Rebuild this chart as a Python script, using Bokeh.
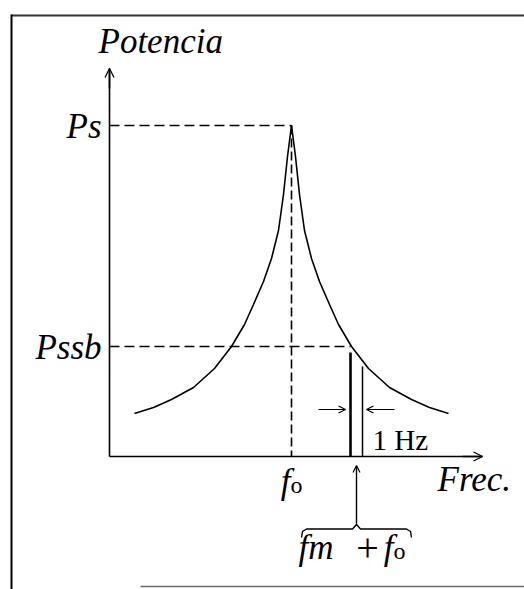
from bokeh.plotting import figure
from bokeh.models import Range1d, Arrow, OpenHead
from bokeh.core.properties import value
from bokeh.embed import file_html
from bokeh.resources import INLINE

# Spectrum of a carrier with phase-noise skirts (power vs frequency)
F0 = 182          # carrier frequency f0
PS = 331          # carrier power Ps
PSSB = 110        # single-sideband noise power Pssb at fm + f0
FM_F0 = 241       # offset frequency fm + f0
F_1HZ = 253       # fm + f0 + 1 Hz
LINE_POWER = [104, 90]   # heights of the two 1 Hz bin edges

# noise skirt readings, left and right of the carrier
freq_left = [25, 44, 62, 84, 105, 122, 135, 144, 154, 162, 169, 174, 178, 182]
power_left = [43, 49, 57, 69, 88, 110, 132, 152, 175, 198, 226, 262, 300, 331]
freq_right = [182, 186, 190, 195, 202, 210, 220, 229, 242, 259, 280, 302, 320, 339]
power_right = [331, 300, 262, 226, 198, 175, 152, 132, 110, 88, 69, 57, 49, 43]

X_MAX = 373
Y_MAX = 388
level_labels = ["Ps", "Pssb"]
level_values = [PS, PSSB]

SERIF = value("Liberation Serif")

p = figure(width=524, height=589, output_backend="svg", toolbar_location=None,
           x_range=Range1d(-109, 415), y_range=Range1d(-133, 456),
           x_axis_type=None, y_axis_type=None, min_border=0, title=None)
p.outline_line_color = None
p.grid.visible = False
p.background_fill_color = "white"
p.border_fill_color = "white"

# page frame: top and left edges, then a short rule at the bottom
p.line([-98, 415], [441, 441], line_color="#333333", line_width=2)
p.line([-98, -98], [442, -133], line_color="black", line_width=2)
p.line([31, 415], [-130, -130], line_color="#6a6a6a", line_width=1.5)

# axes
p.segment(x0=[0, 0], y0=[0, 0], x1=[X_MAX, 0], y1=[0, Y_MAX], line_color="black", line_width=1.6)
p.add_layout(Arrow(end=OpenHead(size=9, line_width=1.3), x_start=0, y_start=Y_MAX - 20,
                   x_end=0, y_end=Y_MAX, line_color="black", line_width=1.6))
p.add_layout(Arrow(end=OpenHead(size=9, line_width=1.3), x_start=X_MAX - 20, y_start=0,
                   x_end=X_MAX, y_end=0, line_color="black", line_width=1.6))

# reference levels
p.segment(x0=[0, 0], y0=[PS, PSSB], x1=[F0, FM_F0], y1=[PS, PSSB],
          line_color="black", line_width=1.6, line_dash="10 5")
p.segment(x0=[F0], y0=[PS], x1=[F0], y1=[0],
          line_color="black", line_width=1.6, line_dash="9 4")

# noise skirts
p.line(freq_left, power_left, line_color="black", line_width=1.6)
p.line(freq_right, power_right, line_color="black", line_width=1.6)

# 1 Hz measurement bin
p.segment(x0=[FM_F0, F_1HZ], y0=[0, 0], x1=[FM_F0, F_1HZ], y1=LINE_POWER,
          line_color="black", line_width=[2.6, 1.5])
ARROW_Y = 47
p.add_layout(Arrow(end=OpenHead(size=7, line_width=1.2), x_start=FM_F0 - 32, y_start=ARROW_Y,
                   x_end=FM_F0 - 5, y_end=ARROW_Y, line_color="black", line_width=1.2))
p.add_layout(Arrow(end=OpenHead(size=7, line_width=1.2), x_start=F_1HZ + 32, y_start=ARROW_Y,
                   x_end=F_1HZ + 4, y_end=ARROW_Y, line_color="black", line_width=1.2))
p.text(x=[F_1HZ + 10], y=[17], text=["1 Hz"], text_font=SERIF, text_font_size="29px",
       text_align="left", text_baseline="alphabetic", text_color="black")

# pointer from the bracketed label up to the measurement bin
mid = (FM_F0 + F_1HZ) / 2
p.add_layout(Arrow(end=OpenHead(size=7, line_width=1.2), x_start=mid, y_start=-69,
                   x_end=mid, y_end=-9, line_color="black", line_width=1.4))
half = 55
brace_x = [mid - half, mid - half + 1, mid - half + 5, mid - 4, mid, mid + 4,
           mid + half - 5, mid + half - 1, mid + half]
brace_y = [-81, -75, -72.5, -72.5, -68, -72.5, -72.5, -75, -81]
p.line(brace_x, brace_y, line_color="black", line_width=1.4)

# labels
p.text(x=[-11], y=[415], text=["Potencia"], text_font=SERIF, text_font_style="italic",
       text_font_size="35px", text_align="left", text_baseline="alphabetic", text_color="black")
p.text(x=[-8, -8], y=[v - 1 for v in level_values], text=level_labels, text_font=SERIF,
       text_font_style="italic", text_font_size="35px", text_align="right",
       text_baseline="alphabetic", text_color="black")

# f0 under the axis
p.text(x=[F0 - 1], y=[-25], text=["f"], text_font=SERIF, text_font_style="italic",
       text_font_size="35px", text_align="right", text_baseline="alphabetic", text_color="black")
p.text(x=[F0 - 1], y=[-28], text=["o"], text_font=SERIF, text_font_size="24px",
       text_align="left", text_baseline="alphabetic", text_color="black")
p.text(x=[X_MAX - 45], y=[-23], text=["Frec."], text_font=SERIF, text_font_style="italic",
       text_font_size="35px", text_align="left", text_baseline="alphabetic", text_color="black")

# fm + f0 label
p.text(x=[mid - 58], y=[-91], text=["fm"], text_font=SERIF, text_font_style="italic",
       text_font_size="35px", text_align="left", text_baseline="alphabetic", text_color="black")
p.text(x=[mid + 11], y=[-91], text=["+"], text_font=SERIF,
       text_font_size="40px", text_align="center", text_baseline="alphabetic", text_color="black")
p.text(x=[mid + 37], y=[-91], text=["f"], text_font=SERIF, text_font_style="italic",
       text_font_size="35px", text_align="right", text_baseline="alphabetic", text_color="black")
p.text(x=[mid + 37], y=[-94], text=["o"], text_font=SERIF, text_font_size="24px",
       text_align="left", text_baseline="alphabetic", text_color="black")

open("out.html", "w").write(file_html(p, INLINE))
